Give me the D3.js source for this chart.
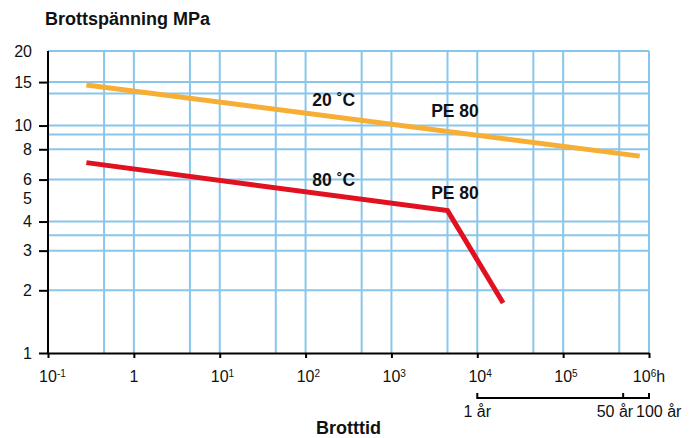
<!DOCTYPE html>
<html>
<head>
<meta charset="utf-8">
<script src="https://cdn.jsdelivr.net/npm/d3@7"></script>
<style>
    body { margin: 0; background: #fff; }
    text { font-family: "Liberation Sans", Arial, sans-serif; fill: #111; }
</style>
</head>
<body>
<div id="chart"></div>
<script>
// time to failure (hours, log) against stress (MPa)
const hoursTicks = [0.1, 1, 10, 100, 1000, 1e4, 1e5, 1e6];
const hoursGrid = [0.45, 1, 4.5, 10, 45, 100, 450, 1000, 4500, 1e4, 4.5e4, 1e5, 4.5e5, 1e6];
const mpaLabels = [1, 2, 3, 4, 5, 6, 8, 10, 15, 20];
const mpaNoTick = [5, 20];
const mpaGrid = [2, 3, 3.5, 4, 6, 8, 9.2, 10, 13.5, 15, 20];

const pe80at20C = [{t: 0.28, v: 14.6}, {t: 7.8e5, v: 7.5}];
const pe80at80C = [{t: 0.28, v: 7.05}, {t: 4500, v: 4.45}, {t: 2e4, v: 1.75}];

const curveLabels = [
    {text: "20 ˚C", t: 120, v: 12.0},
    {text: "PE 80", t: 2900, v: 10.8},
    {text: "80 ˚C", t: 120, v: 5.65},
    {text: "PE 80", t: 2900, v: 5.0}
];

const yearMarks = [
    {t: 1e4, label: "1 år", anchor: "middle", dx: 0},
    {t: 5e5, label: "50 år", anchor: "end", dx: 10},
    {t: 1e6, label: "100 år", anchor: "start", dx: -13}
];

const width = 697, height = 438;
const margin = {left: 48, top: 51, right: 48, bottom: 85};

const svg = d3.select("#chart").append("svg")
    .attr("width", width)
    .attr("height", height);

const x = d3.scaleLog().domain([0.1, 1e6]).range([margin.left, width - margin.right]);
const y = d3.scaleSymlog().constant(0.3).domain([1, 20]).range([height - margin.bottom, margin.top]);

const gridColor = "#88c6ec";

// grid
svg.append("g")
    .selectAll("line")
    .data(hoursGrid)
    .enter().append("line")
    .attr("x1", d => x(d)).attr("x2", d => x(d))
    .attr("y1", y(20)).attr("y2", y(1))
    .attr("stroke", gridColor)
    .attr("stroke-width", 2);

svg.append("g")
    .selectAll("line")
    .data(mpaGrid)
    .enter().append("line")
    .attr("x1", x(0.1)).attr("x2", x(1e6))
    .attr("y1", d => y(d)).attr("y2", d => y(d))
    .attr("stroke", gridColor)
    .attr("stroke-width", 2);

// curves
const line = d3.line().x(d => x(d.t)).y(d => y(d.v));

svg.append("path")
    .datum(pe80at20C)
    .attr("d", line)
    .attr("fill", "none")
    .attr("stroke", "#f7ae35")
    .attr("stroke-width", 5);

svg.append("path")
    .datum(pe80at80C)
    .attr("d", line)
    .attr("fill", "none")
    .attr("stroke", "#e2111f")
    .attr("stroke-width", 5)
    .attr("stroke-linejoin", "miter");

// axes
const yAxis = svg.append("g")
    .attr("transform", `translate(${margin.left},0)`)
    .call(d3.axisLeft(y).tickValues(mpaLabels).tickSize(9).tickSizeOuter(0).tickPadding(7).tickFormat(d3.format("d")));

yAxis.selectAll(".tick")
    .filter(d => mpaNoTick.includes(d))
    .select("line").remove();

const xAxis = svg.append("g")
    .attr("transform", `translate(0,${y(1)})`)
    .call(d3.axisBottom(x).tickValues(hoursTicks).tickSize(5).tickSizeOuter(0).tickFormat(""));

svg.selectAll(".domain, .tick line")
    .attr("stroke", "#000")
    .attr("stroke-width", 2);

yAxis.selectAll("text")
    .attr("font-size", 16)
    .attr("fill", "#111");
yAxis.select(".domain").attr("d", `M0,${y(20)}V${y(1) + 1}`);

// x tick labels with exponents
const xl = svg.append("g")
    .attr("font-size", 16);

hoursTicks.forEach((t, i) => {
    const e = Math.round(Math.log10(t));
    const last = i === hoursTicks.length - 1;
    const txt = xl.append("text").attr("y", 382);
    if (e === 0) {
        txt.attr("x", x(t)).attr("text-anchor", "middle").text("1");
        return;
    }
    txt.attr("x", last ? x(t) : x(t) - 8.9)
        .attr("text-anchor", last ? "middle" : "start");
    txt.append("tspan").text("10");
    txt.append("tspan").attr("font-size", 10).attr("dy", -5).text(e < 0 ? "-" + (-e) : e);
    if (last) txt.append("tspan").attr("dy", 5).text("h");
});

// year bracket
const yb = 398;
svg.append("line")
    .attr("x1", x(yearMarks[0].t)).attr("x2", x(yearMarks[yearMarks.length - 1].t))
    .attr("y1", yb).attr("y2", yb)
    .attr("stroke", "#000").attr("stroke-width", 2);

svg.append("g")
    .selectAll("line")
    .data(yearMarks)
    .enter().append("line")
    .attr("x1", d => x(d.t)).attr("x2", d => x(d.t))
    .attr("y1", yb + 1).attr("y2", yb - 5)
    .attr("stroke", "#000").attr("stroke-width", 2);

svg.append("g")
    .selectAll("text")
    .data(yearMarks)
    .enter().append("text")
    .attr("x", d => x(d.t) + d.dx)
    .attr("y", 417)
    .attr("text-anchor", d => d.anchor)
    .attr("font-size", 16)
    .text(d => d.label);

// curve labels
svg.append("g")
    .selectAll("text")
    .data(curveLabels)
    .enter().append("text")
    .attr("x", d => x(d.t))
    .attr("y", d => y(d.v))
    .attr("font-size", 17.5)
    .attr("font-weight", "bold")
    .text(d => d.text);

// titles
svg.append("text")
    .attr("x", 45).attr("y", 25)
    .attr("font-size", 18).attr("font-weight", "bold")
    .text("Brottspänning MPa");

svg.append("text")
    .attr("x", (x(0.1) + x(1e6)) / 2).attr("y", 434)
    .attr("text-anchor", "middle")
    .attr("font-size", 18).attr("font-weight", "bold")
    .text("Brotttid");
</script>
</body>
</html>
